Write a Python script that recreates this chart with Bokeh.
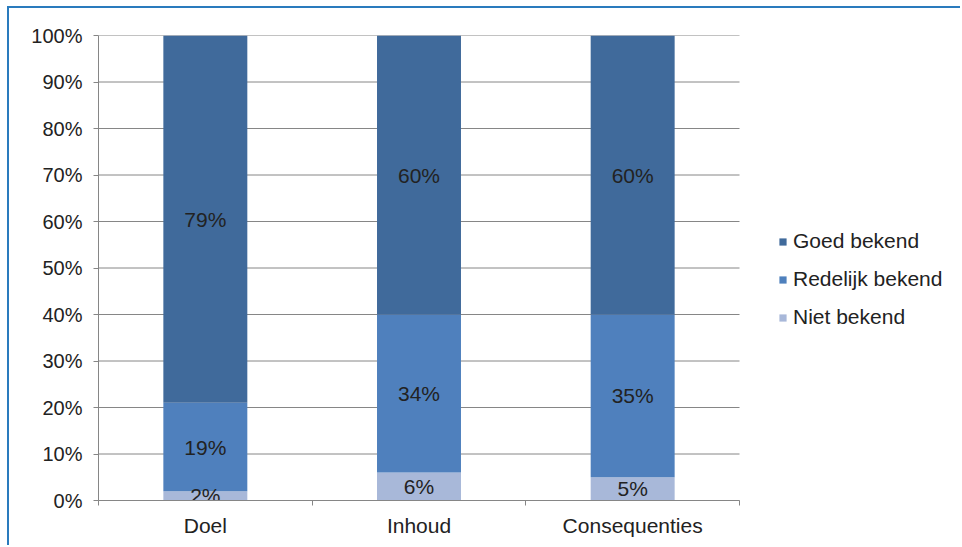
from bokeh.plotting import figure
from bokeh.models import (ColumnDataSource, FixedTicker, NumeralTickFormatter, Legend,
                          LegendItem, Range1d)
from bokeh.core.properties import value
from bokeh.embed import file_html
from bokeh.resources import INLINE

categories = ["Doel", "Inhoud", "Consequenties"]
niet = [2, 6, 5]
redelijk = [19, 34, 35]
goed = [79, 60, 60]
series_names = ["Niet bekend", "Redelijk bekend", "Goed bekend"]
y_ticks = [i / 10 for i in range(11)]
colors = ["#a8b8d9", "#4f80bd", "#406a9b"]

FONT = "Liberation Sans"
FS = "21px"

W, H = 953, 539
LEFT, TOP, BOTTOM = 89, 27, 47
PLOT_W = 641  # width of the category area in px
frame_w = W - LEFT
n = len(categories)

x = [i + 0.5 for i in range(n)]
b0 = [0.0] * n
t0 = [v / 100 for v in niet]
t1 = [a + b / 100 for a, b in zip(t0, redelijk)]
t2 = [a + b / 100 for a, b in zip(t1, goed)]

p = figure(width=W, height=H,
           x_range=Range1d(0, n * frame_w / PLOT_W), y_range=Range1d(0, 1),
           output_backend="svg", toolbar_location=None,
           min_border_left=LEFT, min_border_top=TOP, min_border_bottom=BOTTOM, min_border_right=0)
p.background_fill_color = "white"
p.outline_line_color = None
p.styles = {"border-left": "2px solid #2a7bbd", "border-top": "2px solid #2a7bbd",
            "margin-left": "7px", "margin-top": "6px"}

# horizontal gridlines limited to category area
p.segment(x0=[0] * len(y_ticks), x1=[n] * len(y_ticks), y0=y_ticks, y1=y_ticks,
          line_color="#868686", line_width=1, level="underlay")

renderers = []
for bottom, top, name, c in zip([b0, t0, t1], [t0, t1, t2], series_names, colors):
    src = ColumnDataSource(dict(x=x, bottom=bottom, top=top))
    r = p.vbar(x="x", bottom="bottom", top="top", width=0.393, source=src,
               fill_color=c, line_color=None)
    renderers.append((name, r))

# labels
for bottom, top, vals in zip([b0, t0, t1], [t0, t1, t2], [niet, redelijk, goed]):
    mid = [(a + b) / 2 for a, b in zip(bottom, top)]
    src = ColumnDataSource(dict(x=x, y=mid, t=[f"{v}%" for v in vals]))
    p.text(x="x", y="y", text="t", source=src, text_align="center", text_baseline="middle",
           text_font=value(FONT), text_font_size=FS, text_color="#222222")

# y axis
p.yaxis.ticker = FixedTicker(ticks=y_ticks)
p.yaxis.formatter = NumeralTickFormatter(format="0%")
p.yaxis.major_label_text_font = FONT
p.yaxis.major_label_text_font_size = "20px"
p.yaxis.major_label_text_color = "#222222"
p.yaxis.axis_line_color = "#868686"
p.yaxis.major_tick_line_color = "#868686"
p.yaxis.major_tick_out = 5
p.yaxis.major_tick_in = 0
p.yaxis.minor_tick_line_color = None
p.yaxis.major_label_standoff = 11

# x axis
p.xaxis.bounds = (0, n)
p.xaxis.ticker = FixedTicker(ticks=x, minor_ticks=list(range(n + 1)))
p.xaxis.major_label_overrides = {xi: c for xi, c in zip(x, categories)}
p.xaxis.major_label_text_font = FONT
p.xaxis.major_label_text_font_size = FS
p.xaxis.major_label_text_color = "#222222"
p.xaxis.axis_line_color = "#868686"
p.xaxis.major_tick_line_color = None
p.xaxis.major_tick_out = 0
p.xaxis.major_tick_in = 0
p.xaxis.minor_tick_line_color = "#868686"
p.xaxis.minor_tick_out = 5
p.xaxis.minor_tick_in = 0
p.xaxis.major_label_standoff = 8

p.xgrid.grid_line_color = None
p.ygrid.grid_line_color = None

items = [LegendItem(label=name, renderers=[r]) for name, r in reversed(renderers)]
legend = Legend(items=items, location=(680, 171), margin=0, padding=10,
                glyph_width=9, glyph_height=9, label_standoff=6, spacing=14,
                label_height=20, label_text_font=FONT, label_text_font_size=FS,
                label_text_color="#222222", border_line_color=None,
                background_fill_alpha=0)
p.add_layout(legend, "center")

open("out.html", "w").write(file_html(p, INLINE))
